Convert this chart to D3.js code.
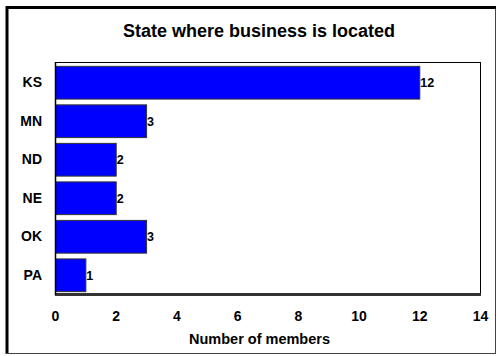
<!DOCTYPE html>
<html>
<head>
<meta charset="utf-8">
<script src="https://cdn.jsdelivr.net/npm/d3@7"></script>
<style>
  html, body { margin: 0; padding: 0; background: #fff; }
  svg { display: block; }
  text { font-family: "Liberation Sans", Arial, sans-serif; font-weight: bold; fill: #000; }
</style>
</head>
<body>
<svg id="chart" width="498" height="356"></svg>
<script>
// Members by state
const states = ["KS", "MN", "ND", "NE", "OK", "PA"];
const members = [12, 3, 2, 2, 3, 1];
const xTicks = [0, 2, 4, 6, 8, 10, 12, 14];
const chartTitle = "State where business is located";
const xTitle = "Number of members";

const svg = d3.select("#chart");
const W = 498, H = 356;
const plot = { left: 55, right: 480, top: 62, bottom: 295 };

// outer frame: heavy top/left, light right/bottom
svg.append("rect").attr("x", 0).attr("y", 0).attr("width", W).attr("height", H).attr("fill", "#fff");
svg.append("line").attr("x1", 6).attr("x2", 496).attr("y1", 7.5).attr("y2", 7.5)
  .attr("stroke", "#000").attr("stroke-width", 3);
svg.append("line").attr("x1", 7).attr("x2", 7).attr("y1", 6).attr("y2", 354)
  .attr("stroke", "#000").attr("stroke-width", 3);
svg.append("line").attr("x1", 495.5).attr("x2", 495.5).attr("y1", 9).attr("y2", 354)
  .attr("stroke", "#444").attr("stroke-width", 1);
svg.append("line").attr("x1", 6).attr("x2", 496).attr("y1", 353.5).attr("y2", 353.5)
  .attr("stroke", "#444").attr("stroke-width", 1);

const x = d3.scaleLinear().domain([0, 14]).range([plot.left, plot.right]);
const y = d3.scaleBand().domain(states).range([plot.top, plot.bottom])
  .paddingInner(0.15).paddingOuter(0.1);

// plot area frame
svg.append("rect")
  .attr("x", plot.left + 0.5).attr("y", plot.top + 0.5)
  .attr("width", plot.right - plot.left).attr("height", plot.bottom - plot.top - 1)
  .attr("fill", "#fff").attr("stroke", "#000").attr("stroke-width", 1);

// bars
svg.append("g").selectAll("rect").data(states).join("rect")
  .attr("x", x(0) + 0.5)
  .attr("y", d => y(d) + 0.5)
  .attr("width", (d, i) => x(members[i]) - x(0))
  .attr("height", y.bandwidth())
  .attr("fill", "#0000ff")
  .attr("stroke", "#333")
  .attr("stroke-width", 1);

// value labels
svg.append("g").selectAll("text").data(states).join("text")
  .attr("x", (d, i) => x(members[i]) + 1)
  .attr("y", d => y(d) + y.bandwidth() / 2 + 1)
  .attr("dominant-baseline", "central")
  .attr("font-size", 12.5)
  .text((d, i) => members[i]);

// bottom axis line (heavy) and left axis line
svg.append("line").attr("x1", plot.left).attr("x2", plot.right + 1)
  .attr("y1", plot.bottom - 0.5).attr("y2", plot.bottom - 0.5)
  .attr("stroke", "#333").attr("stroke-width", 3);
svg.append("line").attr("x1", plot.left + 0.5).attr("x2", plot.left + 0.5)
  .attr("y1", plot.top).attr("y2", plot.bottom)
  .attr("stroke", "#000").attr("stroke-width", 1.5);

// x axis tick labels
const xAxis = d3.axisBottom(x).tickValues(xTicks).tickSize(0).tickPadding(0);
const gx = svg.append("g").attr("transform", `translate(0,${plot.bottom + 21})`).call(xAxis);
gx.select(".domain").remove();
gx.selectAll("text").attr("font-size", 14).attr("dy", "0.35em")
  .style("font-family", '"Liberation Sans", Arial, sans-serif').style("font-weight", "bold").attr("fill", "#000");

// y axis labels
const yAxis = d3.axisLeft(y).tickSize(0).tickPadding(0);
const gy = svg.append("g").attr("transform", `translate(${plot.left - 13},0)`).call(yAxis);
gy.select(".domain").remove();
gy.selectAll("text").attr("font-size", 14).attr("dy", "0.35em")
  .style("font-family", '"Liberation Sans", Arial, sans-serif').style("font-weight", "bold").attr("fill", "#000");

// titles
svg.append("text").attr("x", 259).attr("y", 36.5).attr("text-anchor", "middle")
  .attr("font-size", 18).text(chartTitle);
svg.append("text").attr("x", 259.5).attr("y", 343.5).attr("text-anchor", "middle")
  .attr("font-size", 14.5).text(xTitle);
</script>
</body>
</html>
